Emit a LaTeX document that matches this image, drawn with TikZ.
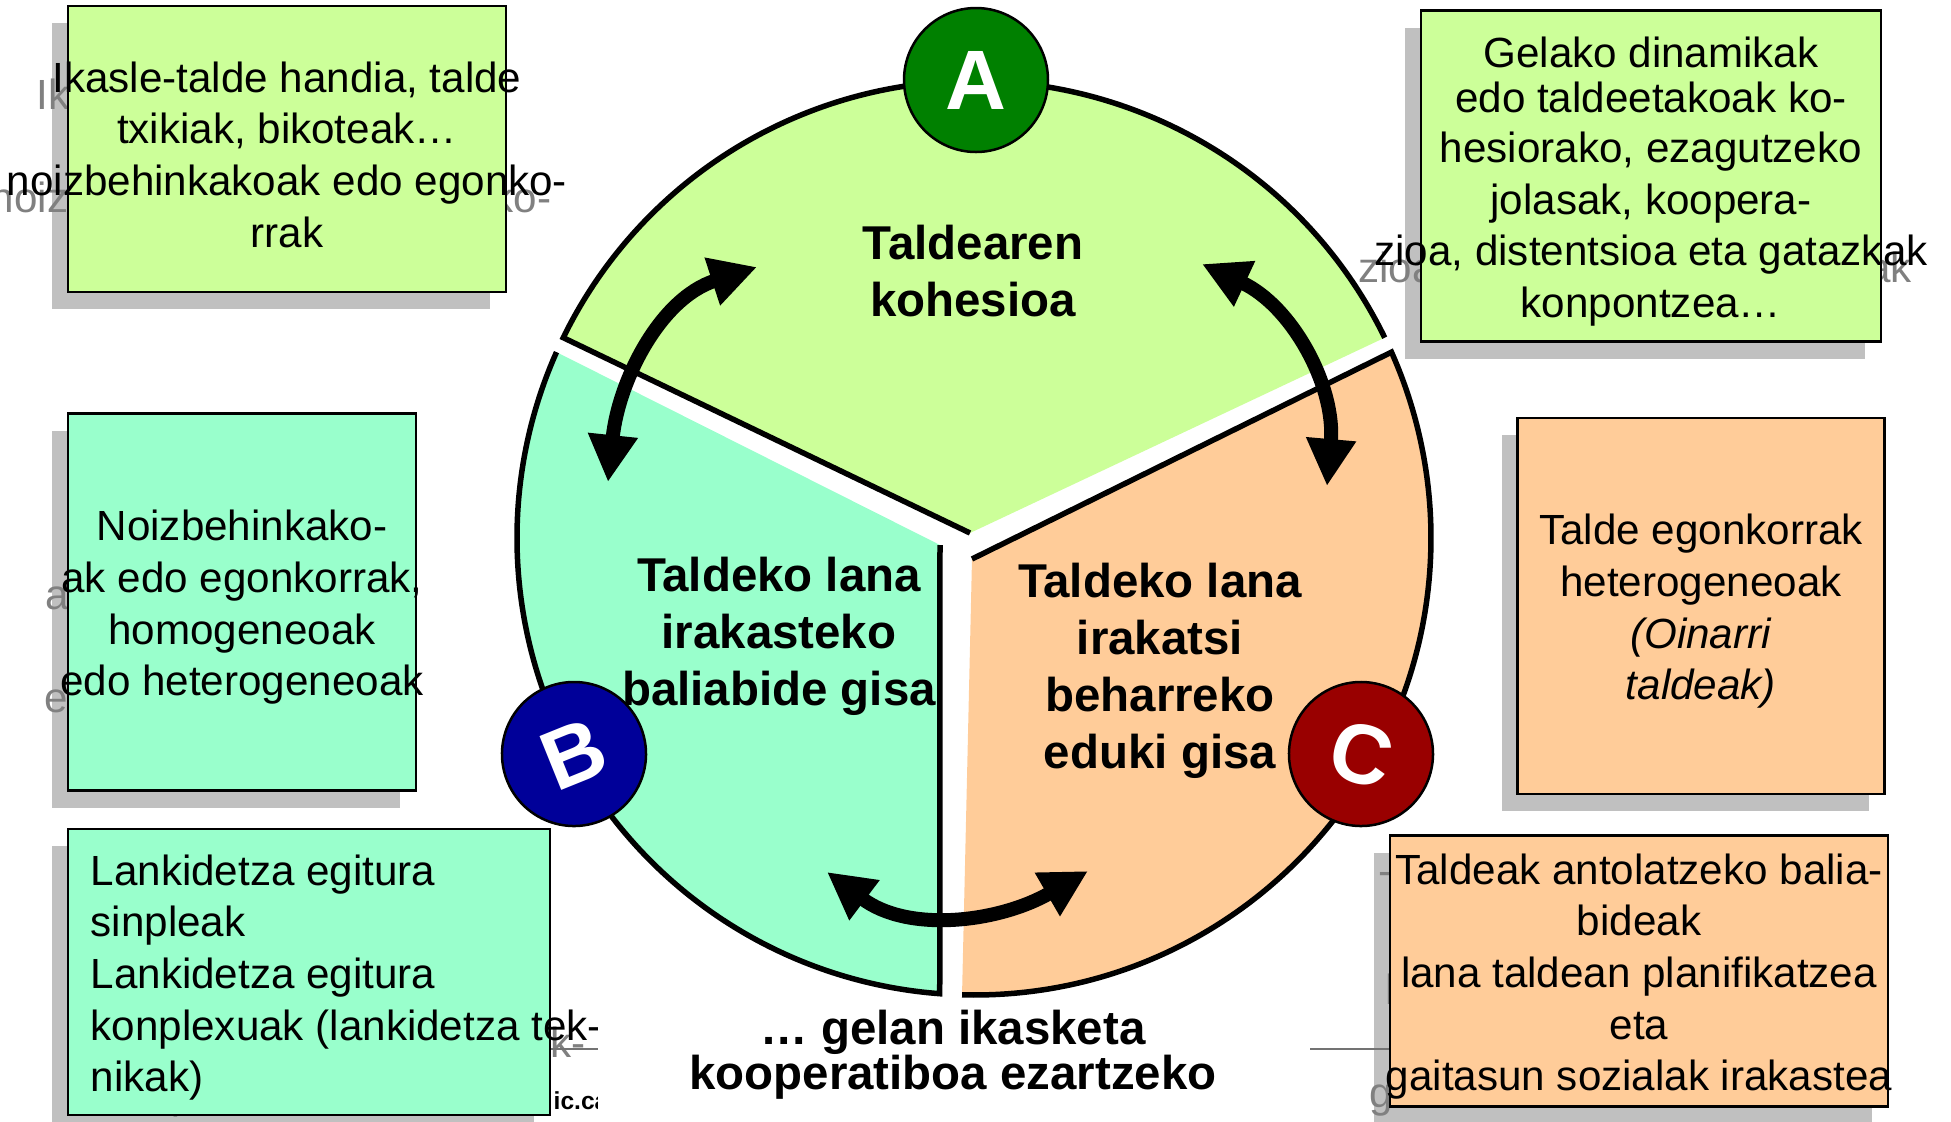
\documentclass[tikz,border=0pt]{standalone}
\usepackage{fontspec}
\setmainfont{Liberation Sans}
\usetikzlibrary{positioning}
\usetikzlibrary{arrows.meta}
\definecolor{limeg}{HTML}{CCFF99}
\definecolor{mint}{HTML}{99FFCC}
\definecolor{peach}{HTML}{FFCC99}
\definecolor{darkg}{HTML}{008000}
\definecolor{navyb}{HTML}{000099}
\definecolor{darkr}{HTML}{990000}
\definecolor{shadeg}{HTML}{C0C0C0}
\definecolor{ghostg}{HTML}{808080}
\tikzset{
    note/.style = {rectangle, draw=black, line width=0.25mm, inner sep=0pt},
    noteshade/.style = {rectangle, fill=shadeg, inner sep=0pt},
    notetxt/.style = {align=center, inner sep=0pt, yshift=-0.55mm, font=\fontsize{12}{14.7}\selectfont},
    ghosttxt/.style = {notetxt, text=ghostg},
    piece/.style = {line width=0.55mm},
    badge/.style = {circle, draw=black, line width=0.25mm, minimum size=14.4mm, inner sep=0pt, text=white, font=\fontsize{24}{28}\selectfont\bfseries},
    piecetxt/.style = {align=center, inner sep=0pt, font=\fontsize{13.5}{16.2}\selectfont\bfseries},
    foottxt/.style = {align=center, inner sep=0pt, font=\fontsize{13.5}{12.8}\selectfont\bfseries},
    edgek/.style = {{Triangle[length=4.7mm,width=4.7mm]}-{Triangle[length=4.7mm,width=4.7mm]}, line width=1.4mm},
    footline/.style = {draw=black!55, line width=0.15mm},
}
\begin{document}
\begin{tikzpicture}[x=0.1mm, y=0.1mm]
\useasboundingbox (0,0) rectangle (1951,-1121);
%
% shadows and their ghost texts
\node[noteshade, minimum width=43.8mm, minimum height=28.6mm] (ikasleS) at (271,-166) {};
\node[ghosttxt] (ikasleG) at (ikasleS) {Ikasle-talde handia, talde\\txikiak, bikoteak…\\noizbehinkakoak edo egonko-\\rrak};
\node[noteshade, minimum width=46.0mm, minimum height=33.1mm] (gelakoS) at (1635,-193) {};
\node[ghosttxt] (gelakoG) at (gelakoS) {Gelako dinamikak\\[-1.8pt]edo taldeetakoak ko-\\[-0.6pt]hesiorako, ezagutzeko\\jolasak, koopera-\\zioa, distentsioa eta gatazkak\\konpontzea…};
\node[noteshade, minimum width=34.8mm, minimum height=37.7mm] (noizS) at (226,-619) {};
\node[ghosttxt] (noizG) at (noizS) {Noizbehinkako-\\ak edo egonkorrak,\\homogeneoak\\edo heterogeneoak};
\node[noteshade, minimum width=48.2mm, minimum height=28.6mm] (lankS) at (293,-989) {};
\node[ghosttxt, align=left, anchor=west] (lankG) at (74,-989) {Lankidetza egitura\\sinpleak\\Lankidetza egitura\\konplexuak (lankidetza tek-\\nikak)};
\node[noteshade, minimum width=36.7mm, minimum height=37.6mm] (egonS) at (1685,-623) {};
\node[ghosttxt] (egonG) at (egonS) {Talde egonkorrak\\heterogeneoak\\\textit{(Oinarri}\\\textit{taldeak)}};
\node[noteshade, minimum width=49.8mm, minimum height=27.1mm] (antolS) at (1623,-988) {};
\node[ghosttxt] (antolG) at (antolS) {Taldeak antolatzeko balia-\\bideak\\lana taldean planifikatzea\\eta\\gaitasun sozialak irakastea};
%
% footer
\draw[footline] (100,-1049) -- (1850,-1049);
\node[anchor=base west, inner sep=0pt, font=\fontsize{7}{8}\selectfont\bfseries] (web) at (553,-1109) {ic.ca};
%
% notes
\node[note, fill=limeg, minimum width=43.8mm, minimum height=28.6mm] (ikasle) at (287,-149) {};
\node[notetxt] (ikasleT) at (ikasle) {Ikasle-talde handia, talde\\txikiak, bikoteak…\\noizbehinkakoak edo egonko-\\rrak};
\node[note, fill=limeg, minimum width=46.0mm, minimum height=33.1mm] (gelako) at (1651,-176) {};
\node[notetxt] (gelakoT) at (gelako) {Gelako dinamikak\\[-1.8pt]edo taldeetakoak ko-\\[-0.6pt]hesiorako, ezagutzeko\\jolasak, koopera-\\zioa, distentsioa eta gatazkak\\konpontzea…};
\node[note, fill=mint, minimum width=34.8mm, minimum height=37.7mm] (noiz) at (242,-602) {};
\node[notetxt] (noizT) at (noiz) {Noizbehinkako-\\ak edo egonkorrak,\\homogeneoak\\edo heterogeneoak};
\node[note, fill=mint, minimum width=48.2mm, minimum height=28.6mm] (lank) at (309,-972) {};
\node[notetxt, align=left, anchor=west] (lankT) at (90,-972) {Lankidetza egitura\\sinpleak\\Lankidetza egitura\\konplexuak (lankidetza tek-\\nikak)};
\node[note, fill=peach, minimum width=36.7mm, minimum height=37.6mm] (egon) at (1701,-606) {};
\node[notetxt] (egonT) at (egon) {Talde egonkorrak\\heterogeneoak\\\textit{(Oinarri}\\\textit{taldeak)}};
\node[note, fill=peach, minimum width=49.8mm, minimum height=27.1mm] (antol) at (1639,-971) {};
\node[notetxt] (antolT) at (antol) {Taldeak antolatzeko balia-\\bideak\\lana taldean planifikatzea\\eta\\gaitasun sozialak irakastea};
%
% pie pieces
\coordinate (o) at (974,-538);
\fill[limeg] (970,-533) -- ([shift={(26:457)}]o) arc[start angle=26, end angle=154, radius=457] -- cycle;
\draw[piece] ([shift={(26:457)}]o) arc[start angle=26, end angle=154, radius=457] -- (970,-533);
\fill[mint] (940,-545) -- ([shift={(156:457)}]o) arc[start angle=156, end angle=265.7, radius=457] -- cycle;
\draw[piece] ([shift={(156:457)}]o) arc[start angle=156, end angle=265.7, radius=457] -- (940,-545);
\fill[peach] (972,-559) -- ([shift={(268.5:457)}]o) arc[start angle=268.5, end angle=384, radius=457] -- cycle;
\draw[piece] ([shift={(268.5:457)}]o) arc[start angle=268.5, end angle=384, radius=457] -- (972,-559);
%
\node[badge, fill=darkg] (A) at (976,-80) {A};
\node[badge, fill=navyb, rotate=22] (B) at (574,-754) {B};
\node[badge, fill=darkr, rotate=-15] (C) at (1361,-754) {C};
%
\coordinate (ab1) at (608,-482);
\coordinate (ab2) at (757,-267);
\coordinate (ac1) at (1202,-264);
\coordinate (ac2) at (1327,-486);
\coordinate (bc1) at (827,-872);
\coordinate (bc2) at (1088,-871);
\draw[edgek] (ab1) to[out=84, in=198] (ab2);
\draw[edgek] (ac1) to[out=-25, in=85] (ac2);
\draw[edgek] (bc1) to[out=-37, in=210] (bc2);
%
\node[piecetxt] (kohesio) at (973,-271) {Taldearen\\kohesioa};
\node[piecetxt] (baliabide) at (779,-636) {Taldeko lana\\irakasteko\\baliabide gisa};
\node[piecetxt] (eduki) at (1160,-671) {Taldeko lana\\irakatsi\\beharreko\\eduki gisa};
%
\node[fill=white, inner sep=0pt, minimum width=71.2mm, minimum height=11.6mm] (foot) at (954,-1060) {};
\node[foottxt] (gelan) at (953,-1055) {… gelan ikasketa\\kooperatiboa ezartzeko};

\end{tikzpicture}
\end{document}
